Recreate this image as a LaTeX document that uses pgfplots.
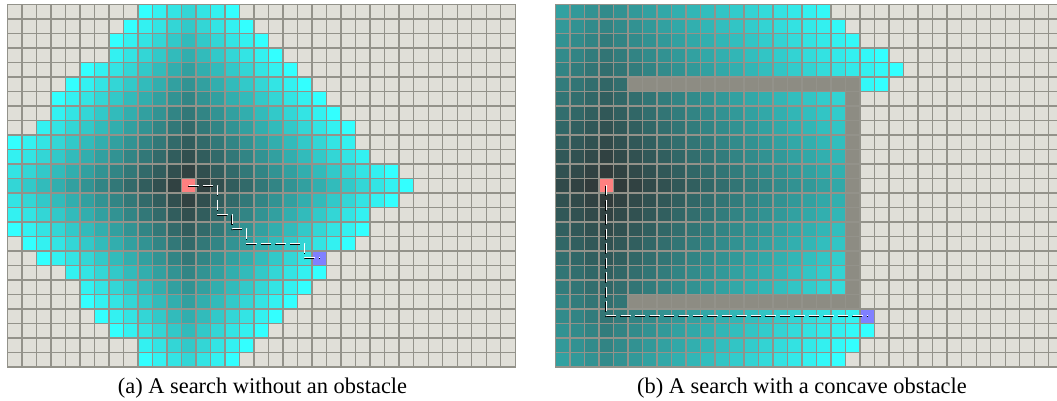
\documentclass[border=0pt]{standalone}
\usepackage{fontspec}
\setmainfont{Liberation Serif}
\usepackage{pgfplots}
\usepackage{pgfplotstable}
\pgfplotsset{compat=1.18}
\definecolor{gridc}{RGB}{147,146,138}
% codes: -4 goal, -3 start, -2 obstacle, -1 unexplored, >=0 distance from start
\pgfplotsset{
 colormap={mapA}{rgb255(0cm)=(128,128,255) rgb255(1cm)=(255,128,128) rgb255(2cm)=(141,140,131) rgb255(3cm)=(224,223,216) rgb255(4cm)=(49,52,52) rgb255(19cm)=(51,255,255)},
 colormap={mapB}{rgb255(0cm)=(128,128,255) rgb255(1cm)=(255,128,128) rgb255(2cm)=(141,140,131) rgb255(3cm)=(224,223,216) rgb255(4cm)=(49,52,52) rgb255(32cm)=(51,255,255)},
}
\pgfplotstableread[header=false,row sep=\\]{
-1\\-1\\-1\\-1\\-1\\ -1\\-1\\-1\\-1\\ 15\\14\\13\\12\\13\\14\\15\\ -1\\-1\\-1\\-1\\-1\\ -1\\-1\\-1\\-1\\-1\\ -1\\-1\\-1\\-1\\-1\\ -1\\-1\\-1\\-1\\
-1\\-1\\-1\\-1\\-1\\ -1\\-1\\-1\\ 15\\14\\13\\12\\11\\12\\13\\14\\15\\ -1\\-1\\-1\\-1\\-1\\ -1\\-1\\-1\\-1\\-1\\ -1\\-1\\-1\\-1\\-1\\ -1\\-1\\-1\\
-1\\-1\\-1\\-1\\-1\\ -1\\-1\\ 15\\14\\13\\12\\11\\10\\11\\12\\13\\14\\15\\ -1\\-1\\-1\\-1\\-1\\ -1\\-1\\-1\\-1\\-1\\ -1\\-1\\-1\\-1\\-1\\ -1\\-1\\
-1\\-1\\-1\\-1\\-1\\ -1\\-1\\ 14\\13\\12\\11\\10\\9\\10\\11\\12\\13\\14\\15\\ -1\\-1\\-1\\-1\\-1\\ -1\\-1\\-1\\-1\\-1\\ -1\\-1\\-1\\-1\\-1\\ -1\\
-1\\-1\\-1\\-1\\-1\\ 15\\14\\13\\12\\11\\10\\9\\8\\9\\10\\11\\12\\13\\14\\15\\ -1\\-1\\-1\\-1\\-1\\ -1\\-1\\-1\\-1\\-1\\ -1\\-1\\-1\\-1\\-1\\
-1\\-1\\-1\\-1\\ 15\\14\\13\\12\\11\\10\\9\\8\\7\\8\\9\\10\\11\\12\\13\\14\\15\\ -1\\-1\\-1\\-1\\-1\\ -1\\-1\\-1\\-1\\-1\\ -1\\-1\\-1\\-1\\
-1\\-1\\-1\\ 15\\14\\13\\12\\11\\10\\9\\8\\7\\6\\7\\8\\9\\10\\11\\12\\13\\14\\15\\ -1\\-1\\-1\\-1\\-1\\ -1\\-1\\-1\\-1\\-1\\ -1\\-1\\-1\\
-1\\-1\\-1\\ 14\\13\\12\\11\\10\\9\\8\\7\\6\\5\\6\\7\\8\\9\\10\\11\\12\\13\\14\\15\\ -1\\-1\\-1\\-1\\-1\\ -1\\-1\\-1\\-1\\-1\\ -1\\-1\\
-1\\-1\\ 14\\13\\12\\11\\10\\9\\8\\7\\6\\5\\4\\5\\6\\7\\8\\9\\10\\11\\12\\13\\14\\15\\ -1\\-1\\-1\\-1\\-1\\ -1\\-1\\-1\\-1\\-1\\ -1\\
15\\14\\13\\12\\11\\10\\9\\8\\7\\6\\5\\4\\3\\4\\5\\6\\7\\8\\9\\10\\11\\12\\13\\14\\ -1\\-1\\-1\\-1\\-1\\ -1\\-1\\-1\\-1\\-1\\ -1\\
14\\13\\12\\11\\10\\9\\8\\7\\6\\5\\4\\3\\2\\3\\4\\5\\6\\7\\8\\9\\10\\11\\12\\13\\14\\ -1\\-1\\-1\\-1\\-1\\ -1\\-1\\-1\\-1\\-1\\
13\\12\\11\\10\\9\\8\\7\\6\\5\\4\\3\\2\\1\\2\\3\\4\\5\\6\\7\\8\\9\\10\\11\\12\\13\\14\\15\\ -1\\-1\\-1\\-1\\-1\\ -1\\-1\\-1\\
12\\11\\10\\9\\8\\7\\6\\5\\4\\3\\2\\1\\-3\\1\\2\\3\\4\\5\\6\\7\\8\\9\\10\\11\\12\\13\\14\\15\\ -1\\-1\\-1\\-1\\-1\\ -1\\-1\\
13\\12\\11\\10\\9\\8\\7\\6\\5\\4\\3\\2\\1\\2\\3\\4\\5\\6\\7\\8\\9\\10\\11\\12\\13\\14\\15\\ -1\\-1\\-1\\-1\\-1\\ -1\\-1\\-1\\
14\\13\\12\\11\\10\\9\\8\\7\\6\\5\\4\\3\\2\\3\\4\\5\\6\\7\\8\\9\\10\\11\\12\\13\\14\\ -1\\-1\\-1\\-1\\-1\\ -1\\-1\\-1\\-1\\-1\\
15\\14\\13\\12\\11\\10\\9\\8\\7\\6\\5\\4\\3\\4\\5\\6\\7\\8\\9\\10\\11\\12\\13\\14\\15\\ -1\\-1\\-1\\-1\\-1\\ -1\\-1\\-1\\-1\\-1\\
-1\\ 15\\14\\13\\12\\11\\10\\9\\8\\7\\6\\5\\4\\5\\6\\7\\8\\9\\10\\11\\12\\13\\14\\15\\ -1\\-1\\-1\\-1\\-1\\ -1\\-1\\-1\\-1\\-1\\ -1\\
-1\\-1\\ 15\\14\\13\\12\\11\\10\\9\\8\\7\\6\\5\\6\\7\\8\\9\\10\\11\\12\\13\\-4\\ -1\\-1\\-1\\-1\\-1\\ -1\\-1\\-1\\-1\\-1\\ -1\\-1\\-1\\
-1\\-1\\-1\\-1\\ 14\\13\\12\\11\\10\\9\\8\\7\\6\\7\\8\\9\\10\\11\\12\\13\\14\\15\\ -1\\-1\\-1\\-1\\-1\\ -1\\-1\\-1\\-1\\-1\\ -1\\-1\\-1\\
-1\\-1\\-1\\-1\\-1\\ 14\\13\\12\\11\\10\\9\\8\\7\\8\\9\\10\\11\\12\\13\\14\\15\\ -1\\-1\\-1\\-1\\-1\\ -1\\-1\\-1\\-1\\-1\\ -1\\-1\\-1\\-1\\
-1\\-1\\-1\\-1\\-1\\ 15\\14\\13\\12\\11\\10\\9\\8\\9\\10\\11\\12\\13\\14\\15\\ -1\\-1\\-1\\-1\\-1\\ -1\\-1\\-1\\-1\\-1\\ -1\\-1\\-1\\-1\\-1\\
-1\\-1\\-1\\-1\\-1\\ -1\\ 15\\14\\13\\12\\11\\10\\9\\10\\11\\12\\13\\14\\15\\ -1\\-1\\-1\\-1\\-1\\ -1\\-1\\-1\\-1\\-1\\ -1\\-1\\-1\\-1\\-1\\ -1\\
-1\\-1\\-1\\-1\\-1\\ -1\\-1\\ 15\\14\\13\\12\\11\\10\\11\\12\\13\\14\\15\\ -1\\-1\\-1\\-1\\-1\\ -1\\-1\\-1\\-1\\-1\\ -1\\-1\\-1\\-1\\-1\\ -1\\-1\\
-1\\-1\\-1\\-1\\-1\\ -1\\-1\\-1\\-1\\ 14\\13\\12\\11\\12\\13\\14\\15\\ -1\\-1\\-1\\-1\\-1\\ -1\\-1\\-1\\-1\\-1\\ -1\\-1\\-1\\-1\\-1\\ -1\\-1\\-1\\
-1\\-1\\-1\\-1\\-1\\ -1\\-1\\-1\\-1\\ 15\\14\\13\\12\\13\\14\\15\\ -1\\-1\\-1\\-1\\-1\\ -1\\-1\\-1\\-1\\-1\\ -1\\-1\\-1\\-1\\-1\\ -1\\-1\\-1\\-1\\
}\lefttab
\pgfplotstableread[header=false,row sep=\\]{
15\\14\\13\\12\\13\\14\\15\\16\\17\\18\\19\\20\\21\\22\\23\\24\\25\\26\\27\\ -1\\-1\\-1\\-1\\-1\\ -1\\-1\\-1\\-1\\-1\\ -1\\-1\\-1\\-1\\-1\\ -1\\
14\\13\\12\\11\\12\\13\\14\\15\\16\\17\\18\\19\\20\\21\\22\\23\\24\\25\\26\\27\\ -1\\-1\\-1\\-1\\-1\\ -1\\-1\\-1\\-1\\-1\\ -1\\-1\\-1\\-1\\-1\\
13\\12\\11\\10\\11\\12\\13\\14\\15\\16\\17\\18\\19\\20\\21\\22\\23\\24\\25\\26\\27\\ -1\\-1\\-1\\-1\\-1\\ -1\\-1\\-1\\-1\\-1\\ -1\\-1\\-1\\-1\\
12\\11\\10\\9\\10\\11\\12\\13\\14\\15\\16\\17\\18\\19\\20\\21\\22\\23\\24\\25\\26\\27\\28\\ -1\\-1\\-1\\-1\\-1\\ -1\\-1\\-1\\-1\\-1\\ -1\\-1\\
11\\10\\9\\8\\9\\10\\11\\12\\13\\14\\15\\16\\17\\18\\19\\20\\21\\22\\23\\24\\25\\26\\27\\28\\ -1\\-1\\-1\\-1\\-1\\ -1\\-1\\-1\\-1\\-1\\ -1\\
10\\9\\8\\7\\8\\ -2\\-2\\-2\\-2\\-2\\ -2\\-2\\-2\\-2\\-2\\ -2\\-2\\-2\\-2\\-2\\ -2\\ 27\\28\\ -1\\-1\\-1\\-1\\-1\\ -1\\-1\\-1\\-1\\-1\\ -1\\-1\\
9\\8\\7\\6\\7\\8\\9\\10\\11\\12\\13\\14\\15\\16\\17\\18\\19\\20\\21\\22\\ -2\\ -1\\-1\\-1\\-1\\-1\\ -1\\-1\\-1\\-1\\-1\\ -1\\-1\\-1\\-1\\
8\\7\\6\\5\\6\\7\\8\\9\\10\\11\\12\\13\\14\\15\\16\\17\\18\\19\\20\\21\\ -2\\ -1\\-1\\-1\\-1\\-1\\ -1\\-1\\-1\\-1\\-1\\ -1\\-1\\-1\\-1\\
7\\6\\5\\4\\5\\6\\7\\8\\9\\10\\11\\12\\13\\14\\15\\16\\17\\18\\19\\20\\ -2\\ -1\\-1\\-1\\-1\\-1\\ -1\\-1\\-1\\-1\\-1\\ -1\\-1\\-1\\-1\\
6\\5\\4\\3\\4\\5\\6\\7\\8\\9\\10\\11\\12\\13\\14\\15\\16\\17\\18\\19\\ -2\\ -1\\-1\\-1\\-1\\-1\\ -1\\-1\\-1\\-1\\-1\\ -1\\-1\\-1\\-1\\
5\\4\\3\\2\\3\\4\\5\\6\\7\\8\\9\\10\\11\\12\\13\\14\\15\\16\\17\\18\\ -2\\ -1\\-1\\-1\\-1\\-1\\ -1\\-1\\-1\\-1\\-1\\ -1\\-1\\-1\\-1\\
4\\3\\2\\1\\2\\3\\4\\5\\6\\7\\8\\9\\10\\11\\12\\13\\14\\15\\16\\17\\ -2\\ -1\\-1\\-1\\-1\\-1\\ -1\\-1\\-1\\-1\\-1\\ -1\\-1\\-1\\-1\\
3\\2\\1\\-3\\1\\2\\3\\4\\5\\6\\7\\8\\9\\10\\11\\12\\13\\14\\15\\16\\ -2\\ -1\\-1\\-1\\-1\\-1\\ -1\\-1\\-1\\-1\\-1\\ -1\\-1\\-1\\-1\\
4\\3\\2\\1\\2\\3\\4\\5\\6\\7\\8\\9\\10\\11\\12\\13\\14\\15\\16\\17\\ -2\\ -1\\-1\\-1\\-1\\-1\\ -1\\-1\\-1\\-1\\-1\\ -1\\-1\\-1\\-1\\
5\\4\\3\\2\\3\\4\\5\\6\\7\\8\\9\\10\\11\\12\\13\\14\\15\\16\\17\\18\\ -2\\ -1\\-1\\-1\\-1\\-1\\ -1\\-1\\-1\\-1\\-1\\ -1\\-1\\-1\\-1\\
6\\5\\4\\3\\4\\5\\6\\7\\8\\9\\10\\11\\12\\13\\14\\15\\16\\17\\18\\19\\ -2\\ -1\\-1\\-1\\-1\\-1\\ -1\\-1\\-1\\-1\\-1\\ -1\\-1\\-1\\-1\\
7\\6\\5\\4\\5\\6\\7\\8\\9\\10\\11\\12\\13\\14\\15\\16\\17\\18\\19\\20\\ -2\\ -1\\-1\\-1\\-1\\-1\\ -1\\-1\\-1\\-1\\-1\\ -1\\-1\\-1\\-1\\
8\\7\\6\\5\\6\\7\\8\\9\\10\\11\\12\\13\\14\\15\\16\\17\\18\\19\\20\\21\\ -2\\ -1\\-1\\-1\\-1\\-1\\ -1\\-1\\-1\\-1\\-1\\ -1\\-1\\-1\\-1\\
9\\8\\7\\6\\7\\8\\9\\10\\11\\12\\13\\14\\15\\16\\17\\18\\19\\20\\21\\22\\ -2\\ -1\\-1\\-1\\-1\\-1\\ -1\\-1\\-1\\-1\\-1\\ -1\\-1\\-1\\-1\\
10\\9\\8\\7\\8\\9\\10\\11\\12\\13\\14\\15\\16\\17\\18\\19\\20\\21\\22\\23\\ -2\\ -1\\-1\\-1\\-1\\-1\\ -1\\-1\\-1\\-1\\-1\\ -1\\-1\\-1\\-1\\
11\\10\\9\\8\\9\\ -2\\-2\\-2\\-2\\-2\\ -2\\-2\\-2\\-2\\-2\\ -2\\-2\\-2\\-2\\-2\\ -2\\ -1\\-1\\-1\\-1\\-1\\ -1\\-1\\-1\\-1\\-1\\ -1\\-1\\-1\\-1\\
12\\11\\10\\9\\10\\11\\12\\13\\14\\15\\16\\17\\18\\19\\20\\21\\22\\23\\24\\25\\26\\ -4\\ -1\\-1\\-1\\-1\\-1\\ -1\\-1\\-1\\-1\\-1\\ -1\\-1\\-1\\
13\\12\\11\\10\\11\\12\\13\\14\\15\\16\\17\\18\\19\\20\\21\\22\\23\\24\\25\\26\\27\\28\\ -1\\-1\\-1\\-1\\-1\\ -1\\-1\\-1\\-1\\-1\\ -1\\-1\\-1\\
14\\13\\12\\11\\12\\13\\14\\15\\16\\17\\18\\19\\20\\21\\22\\23\\24\\25\\26\\27\\28\\ -1\\-1\\-1\\-1\\-1\\ -1\\-1\\-1\\-1\\-1\\ -1\\-1\\-1\\-1\\
15\\14\\13\\12\\13\\14\\15\\16\\17\\18\\19\\20\\21\\22\\23\\24\\25\\26\\27\\28\\ -1\\-1\\-1\\-1\\-1\\ -1\\-1\\-1\\-1\\-1\\ -1\\-1\\-1\\-1\\-1\\
}\righttab
\pgfplotsset{
 gridpanel/.style={
  anchor=south west, scale only axis, width=508pt, height=362.8pt,
  xmin=-0.5, xmax=34.5, ymin=-0.5, ymax=24.5, y dir=reverse,
  xtick={-0.5,0.5,...,34.5}, ytick={-0.5,0.5,...,24.5},
  xticklabels={}, yticklabels={}, major tick length=0pt,
  grid=major, major grid style={draw=gridc, line width=1.4pt},
  axis line style={draw=gridc, line width=1.4pt},
  set layers, axis on top,
 },
 pathblack/.style={on layer=axis foreground, draw=black, line width=1.1pt, dash pattern=on 10pt off 4.5pt, yshift=-0.55pt, xshift=-0.3pt},
 pathwhite/.style={on layer=axis foreground, draw=white, line width=1pt, dash pattern=on 10pt off 4.5pt, yshift=0.5pt},
}
\begin{document}
\begin{tikzpicture}
\begin{axis}[gridpanel, at={(7.3pt,33.9pt)}, colormap name=mapA, point meta min=-4, point meta max=15]
\addplot[matrix plot*, mesh/cols=35, point meta=explicit]
  table[x index=0, y index=0, meta index=0, x expr={\coordindex-35*floor((\coordindex+0.5)/35)}, y expr={floor((\coordindex+0.5)/35)}] {\lefttab};
\addplot[pathblack] coordinates {(12,12) (14,12) (14,14) (15,14) (15,15) (16,15) (16,16) (20,16) (20,17) (21,17)};
\addplot[pathwhite] coordinates {(12,12) (14,12) (14,14) (15,14) (15,15) (16,15) (16,16) (20,16) (20,17) (21,17)};
\end{axis}
\begin{axis}[gridpanel, at={(555.3pt,33.9pt)}, colormap name=mapB, point meta min=-4, point meta max=28]
\addplot[matrix plot*, mesh/cols=35, point meta=explicit]
  table[x index=0, y index=0, meta index=0, x expr={\coordindex-35*floor((\coordindex+0.5)/35)}, y expr={floor((\coordindex+0.5)/35)}] {\righttab};
\addplot[pathblack] coordinates {(3,12) (3,21) (21,21)};
\addplot[pathwhite] coordinates {(3,12) (3,21) (21,21)};
\end{axis}
\node[anchor=base, font=\fontsize{22.4}{26}\selectfont] at (262.5pt,7pt) {(a) A search without an obstacle};
\node[anchor=base, font=\fontsize{22.4}{26}\selectfont] at (802pt,7pt) {(b) A search with a concave obstacle};
\pgfresetboundingbox
\path[use as bounding box] (0pt,0pt) rectangle (1057pt,401pt);
\end{tikzpicture}
\end{document}
